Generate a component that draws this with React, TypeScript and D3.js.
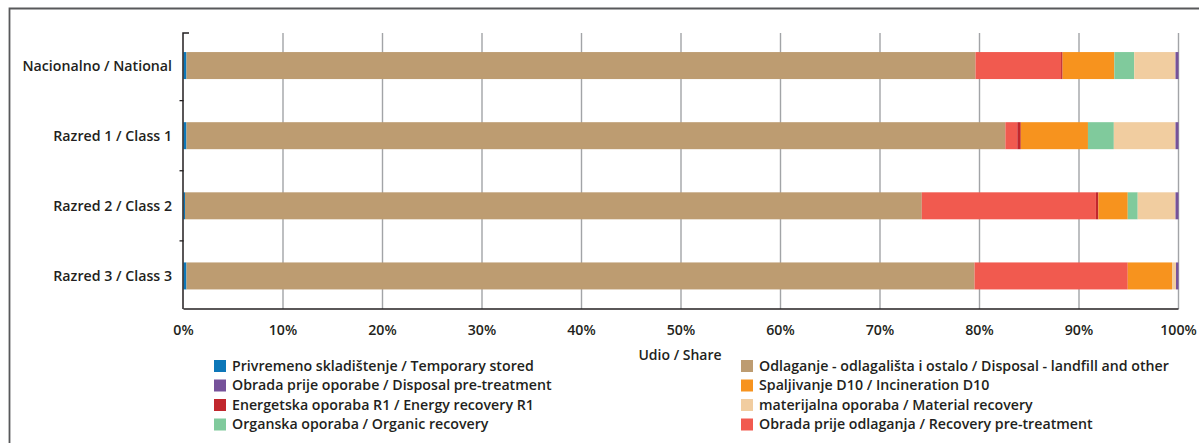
import React from 'react';
import * as d3 from 'd3';

const categories = ['Nacionalno / National', 'Razred 1 / Class 1', 'Razred 2 / Class 2', 'Razred 3 / Class 3'];

// Stack order (left to right inside each bar)
const seriesKeys = ['temp', 'landfill', 'recoveryPre', 'energy', 'incineration', 'organic', 'material', 'disposalPre'];

const seriesLabels: Record<string, string> = {
  temp: 'Privremeno skladištenje / Temporary stored',
  landfill: 'Odlaganje - odlagališta i ostalo / Disposal - landfill and other',
  disposalPre: 'Obrada prije oporabe / Disposal pre-treatment',
  incineration: 'Spaljivanje D10 / Incineration D10',
  energy: 'Energetska oporaba R1 / Energy recovery R1',
  material: 'materijalna oporaba / Material recovery',
  organic: 'Organska oporaba / Organic recovery',
  recoveryPre: 'Obrada prije odlaganja / Recovery pre-treatment',
};

const seriesColors: Record<string, string> = {
  temp: '#0d77b8',
  landfill: '#bd9c71',
  disposalPre: '#76529a',
  incineration: '#f7931e',
  energy: '#c1272d',
  material: '#f1cda0',
  organic: '#80ca9c',
  recoveryPre: '#f15a4f',
};

// Values (% share) per category, in category order
const temporaryStored = [0.3, 0.3, 0.15, 0.3];
const landfill = [79.3, 82.3, 74.05, 79.2];
const recoveryPreTreatment = [8.6, 1.2, 17.5, 15.4];
const energyRecovery = [0.15, 0.35, 0.25, 0];
const incineration = [5.2, 6.75, 2.95, 4.45];
const organicRecovery = [2.0, 2.6, 1.0, 0];
const materialRecovery = [4.15, 6.2, 3.8, 0.4];
const disposalPreTreatment = [0.3, 0.3, 0.3, 0.25];

const legendOrder = ['temp', 'landfill', 'disposalPre', 'incineration', 'energy', 'material', 'organic', 'recoveryPre'];

const xTicks = [0, 10, 20, 30, 40, 50, 60, 70, 80, 90, 100];
const xTitle = 'Udio / Share';

const rows = categories.map((c, i) => ({
  category: c,
  temp: temporaryStored[i],
  landfill: landfill[i],
  recoveryPre: recoveryPreTreatment[i],
  energy: energyRecovery[i],
  incineration: incineration[i],
  organic: organicRecovery[i],
  material: materialRecovery[i],
  disposalPre: disposalPreTreatment[i],
}));

const FONT = '"Open Sans", "Noto Sans", sans-serif';
const TEXT = '#231f20';

export default function App() {
  const W = 1199;
  const H = 443;
  const x = d3.scaleLinear().domain([0, 100]).range([183.5, 1178.5]);
  const y = d3.scaleBand<string>().domain(categories).range([30.5, 311]).paddingInner(0.615).paddingOuter(0.3075);
  const axisTop = 33;
  const axisBottom = 309;

  const stacked = d3.stack<any>().keys(seriesKeys)(rows as any);

  const boundaries = categories.slice(1).map((c) => (y(c) as number) - (y.step() * y.paddingInner()) / 2);

  const legendCols = [214, 741];
  const legendRowY = [366, 385.5, 405, 424.5];

  return (
    <div style={{ position: 'absolute', left: 0, top: 0 }}>
      <svg width={W} height={H} style={{ display: 'block' }} fontFamily={FONT}>
        <rect x={0} y={0} width={W} height={H} fill="#fff" />
        <path d={`M9.5,${H} V8.5 H${W}`} fill="none" stroke="#58595b" strokeWidth={1.8} />

        {/* gridlines */}
        {xTicks.filter((t) => t > 0).map((t) => (
          <line key={t} x1={x(t)} x2={x(t)} y1={axisTop} y2={axisBottom} stroke="#a2a4a7" strokeWidth={1.4} />
        ))}

        {/* bars */}
        {stacked.map((layer) => (
          <g key={layer.key} fill={seriesColors[layer.key]}>
            {layer.map((d: any, i: number) => {
              const w = x(d[1]) - x(d[0]);
              if (w <= 0) return null;
              return (
                <rect key={i} x={x(d[0])} y={y(d.data.category)} width={w} height={y.bandwidth()} />
              );
            })}
          </g>
        ))}

        {/* axes */}
        <line x1={x(0)} x2={x(100)} y1={axisBottom} y2={axisBottom} stroke="#231f20" strokeWidth={1.5} />
        <path d={`M189,${axisTop} H${x(0) - 0.5} V${axisBottom}`} fill="none" stroke="#231f20" strokeWidth={1.5} />
        {boundaries.map((b, i) => (
          <line key={i} x1={x(0) - 4} x2={x(0)} y1={b} y2={b} stroke="#231f20" strokeWidth={1.3} />
        ))}

        {/* y labels */}
        {categories.map((c) => (
          <text key={c} x={172} y={(y(c) as number) + y.bandwidth() / 2} dy="0.35em" textAnchor="end"
            fontSize={14.2} fontWeight={600} fill={TEXT}>{c}</text>
        ))}

        {/* x tick labels */}
        {xTicks.map((t) => (
          <text key={t} x={x(t)} y={330} dy="0.35em" textAnchor="middle" fontSize={14.2} fontWeight={600} fill={TEXT}>
            {`${t}%`}
          </text>
        ))}

        <text x={680} y={355} dy="0.35em" textAnchor="middle" fontSize={14} fontWeight={600} fill={TEXT}>{xTitle}</text>

        {/* legend */}
        {legendOrder.map((k, i) => {
          const col = i % 2;
          const row = Math.floor(i / 2);
          const lx = legendCols[col];
          const ly = legendRowY[row];
          return (
            <g key={k}>
              <rect x={lx} y={ly - 6} width={12} height={12} fill={seriesColors[k]} />
              <text x={lx + 18} y={ly} dy="0.35em" fontSize={14.2} fontWeight={600} fill={TEXT}>{seriesLabels[k]}</text>
            </g>
          );
        })}
      </svg>
    </div>
  );
}
